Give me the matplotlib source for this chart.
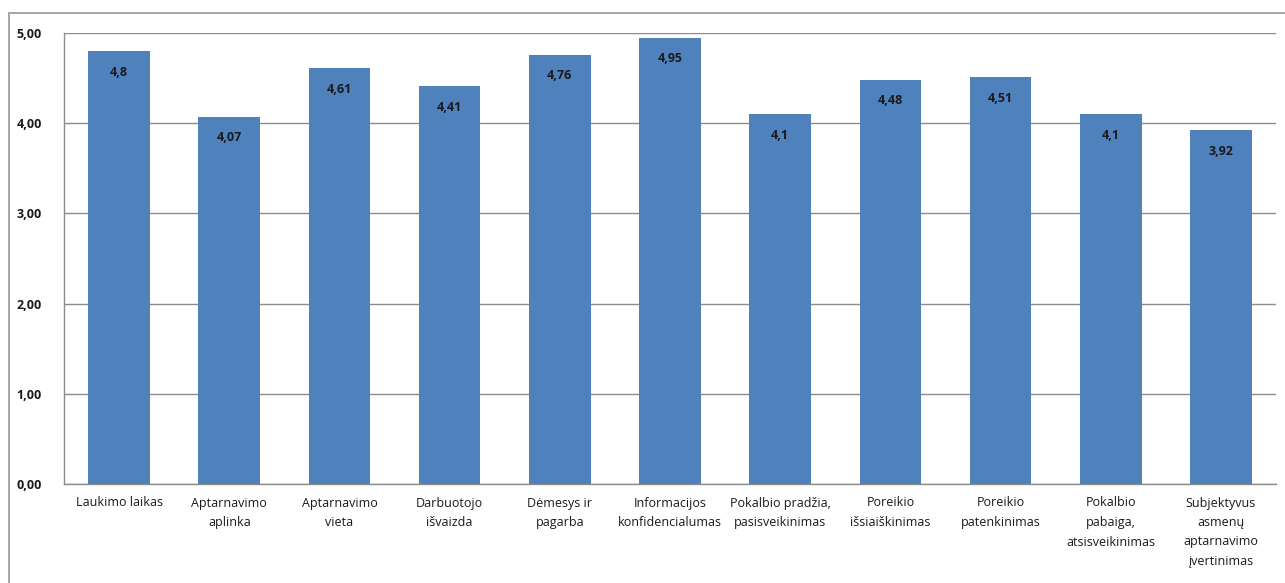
import matplotlib.pyplot as plt
from matplotlib.lines import Line2D

# Service quality scores per category
categories = [
    "Laukimo laikas",
    "Aptarnavimo\naplinka",
    "Aptarnavimo\nvieta",
    "Darbuotojo\nišvaizda",
    "Dėmesys ir\npagarba",
    "Informacijos\nkonfidencialumas",
    "Pokalbio pradžia,\npasisveikinimas",
    "Poreikio\nišsiaiškinimas",
    "Poreikio\npatenkinimas",
    "Pokalbio\npabaiga,\natsisveikinimas",
    "Subjektyvus\nasmenų\naptarnavimo\nįvertinimas",
]
scores = [4.8, 4.07, 4.61, 4.41, 4.76, 4.95, 4.1, 4.48, 4.51, 4.1, 3.92]
y_ticks = [0, 1, 2, 3, 4, 5]

plt.rcParams['font.family'] = ['Open Sans', 'DejaVu Sans']

fig = plt.figure(figsize=(12.85, 5.83), dpi=100)
ax = fig.add_axes([64 / 1285, 1 - 484 / 583, 1212 / 1285, 451 / 583])

x = range(len(categories))
ax.bar(x, scores, width=0.56, color="#4F81BD", zorder=3)

for i, v in enumerate(scores):
    ax.annotate(str(v).replace('.', ','), (i, v), xytext=(0, -21),
                textcoords='offset pixels', ha='center', va='center',
                fontsize=9, fontweight='bold', color='#1a1a1a', zorder=4)

ax.set_xlim(-0.5, len(categories) - 0.5)
ax.set_ylim(0, 5)
ax.set_yticks(y_ticks)
ax.set_yticklabels([f"{t:.2f}".replace('.', ',') for t in y_ticks],
                   fontsize=9, fontweight='bold')
ax.set_xticks(list(x))
ax.set_xticklabels(categories, fontsize=9, linespacing=1.65, va='top')
ax.tick_params(axis='both', length=0, colors='#1a1a1a')
ax.tick_params(axis='y', pad=16)
ax.tick_params(axis='x', pad=9)

ax.grid(axis='y', color='#8c8c8c', linewidth=1, zorder=0)
for side in ['top', 'right']:
    ax.spines[side].set_visible(False)
for side in ['left', 'bottom']:
    ax.spines[side].set_color('#8c8c8c')
    ax.spines[side].set_linewidth(1)

# chart frame
fig.add_artist(Line2D([9 / 1285, 9 / 1285], [0, 1 - 13 / 583], color='#a6a6a6', lw=1.4))
fig.add_artist(Line2D([9 / 1285, 1], [1 - 13 / 583, 1 - 13 / 583], color='#a6a6a6', lw=1.4))

fig.savefig("out.png", dpi=100)
